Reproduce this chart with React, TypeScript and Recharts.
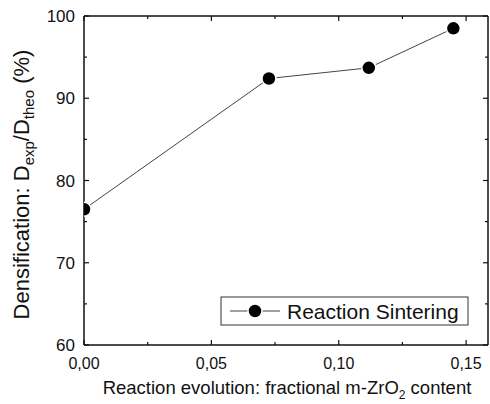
import React from 'react';
import { LineChart, Line, XAxis, YAxis } from 'recharts';

// Relative density vs. fraction of monoclinic zirconia formed
const fractionMZrO2 = [0.0, 0.0726, 0.1118, 0.145];
const densification = [76.5, 92.4, 93.7, 98.5];
const seriesName = 'Reaction Sintering';

const xTicks = [0, 0.025, 0.05, 0.075, 0.1, 0.125, 0.15];
const yTicks = [60, 65, 70, 75, 80, 85, 90, 95, 100];
const xMajor = [0, 0.05, 0.1, 0.15];
const yMajor = [60, 70, 80, 90, 100];

const data = fractionMZrO2.map((x, i) => ({ x, y: densification[i] }));

const FONT = '"Liberation Sans", Arial, sans-serif';
const INK = '#111';
const MAJOR = 5;
const MINOR = 3;

const isMajorX = (v: number) => xMajor.some((m) => Math.abs(m - v) < 1e-9);
const isMajorY = (v: number) => yMajor.some((m) => Math.abs(m - v) < 1e-9);
const fmtX = (v: number) => v.toFixed(2).replace('.', ',');

const BottomTick = (props: any) => {
  const { x, y, payload } = props;
  const major = isMajorX(payload.value);
  return (
    <g>
      <line x1={x} x2={x} y1={y} y2={y - (major ? MAJOR : MINOR)} stroke={INK} strokeWidth={1.2} />
      {major && (
        <text x={x} y={y + 24} textAnchor="middle" fontFamily={FONT} fontSize={16} fill={INK}>
          {fmtX(payload.value)}
        </text>
      )}
    </g>
  );
};

const TopTick = (props: any) => {
  const { x, y, payload } = props;
  const major = isMajorX(payload.value);
  return <line x1={x} x2={x} y1={y} y2={y + (major ? MAJOR : MINOR)} stroke={INK} strokeWidth={1.2} />;
};

const LeftTick = (props: any) => {
  const { x, y, payload } = props;
  const major = isMajorY(payload.value);
  return (
    <g>
      <line x1={x} x2={x + (major ? MAJOR : MINOR)} y1={y} y2={y} stroke={INK} strokeWidth={1.2} />
      {major && (
        <text x={x - 9} y={y + 6} textAnchor="end" fontFamily={FONT} fontSize={17} fill={INK}>
          {payload.value}
        </text>
      )}
    </g>
  );
};

const RightTick = (props: any) => {
  const { x, y, payload } = props;
  const major = isMajorY(payload.value);
  return <line x1={x} x2={x - (major ? MAJOR : MINOR)} y1={y} y2={y} stroke={INK} strokeWidth={1.2} />;
};

const YTitle = (props: any) => {
  const { viewBox } = props;
  const cy = viewBox.y + viewBox.height / 2 + 4;
  const bx = 29;
  return (
    <text
      x={bx}
      y={cy}
      transform={`rotate(-90 ${bx} ${cy})`}
      textAnchor="middle"
      fontFamily={FONT}
      fontSize={22}
      fill={INK}
    >
      <tspan>Densification: D</tspan>
      <tspan fontSize={15} dy={5}>exp</tspan>
      <tspan dy={-5}>/D</tspan>
      <tspan fontSize={15} dy={5}>theo</tspan>
      <tspan dy={-5}> (%)</tspan>
    </text>
  );
};

const XTitle = (props: any) => {
  const { viewBox } = props;
  const cx = viewBox.x + viewBox.width / 2 + 1;
  return (
    <text x={cx} y={394} textAnchor="middle" fontFamily={FONT} fontSize={18.5} fill={INK}>
      <tspan>Reaction evolution: fractional m-ZrO</tspan>
      <tspan fontSize={12} dy={5}>2</tspan>
      <tspan dy={-5}> content</tspan>
    </text>
  );
};

const LegendBox = () => (
  <g>
    <rect x={221} y={297} width={247} height={28} fill="#fff" stroke="#333" strokeWidth={1} />
    <line x1={230} x2={280} y1={311} y2={311} stroke="#444" strokeWidth={1} />
    <circle cx={255} cy={311} r={7} fill="#000" stroke="#fff" strokeWidth={1.5} />
    <text x={287} y={318.5} fontFamily={FONT} fontSize={21} fill={INK}>
      {seriesName}
    </text>
  </g>
);

export default function App() {
  return (
    <div style={{ position: 'absolute', left: 0, top: 0, background: '#fff' }}>
      <LineChart
        width={490}
        height={404}
        data={data}
        margin={{ top: 15, right: 1, bottom: 0, left: 0 }}
      >
        <XAxis
          dataKey="x"
          type="number"
          domain={[0, 0.1586]}
          ticks={xTicks}
          interval={0}
          height={59}
          tickSize={0}
          tickMargin={0}
          tick={<BottomTick />}
          axisLine={{ stroke: INK, strokeWidth: 1.5 }}
          allowDataOverflow
          label={<XTitle />}
        />
        <XAxis
          xAxisId="top"
          orientation="top"
          dataKey="x"
          type="number"
          domain={[0, 0.1586]}
          ticks={xTicks}
          interval={0}
          height={1}
          tickSize={0}
          tickMargin={0}
          tick={<TopTick />}
          axisLine={{ stroke: INK, strokeWidth: 1.5 }}
          allowDataOverflow
        />
        <YAxis
          type="number"
          domain={[60, 100]}
          ticks={yTicks}
          interval={0}
          width={84}
          tickSize={0}
          tickMargin={0}
          tick={<LeftTick />}
          axisLine={{ stroke: INK, strokeWidth: 1.5 }}
          allowDataOverflow
          label={<YTitle />}
        />
        <YAxis
          yAxisId="right"
          orientation="right"
          type="number"
          domain={[60, 100]}
          ticks={yTicks}
          interval={0}
          width={1}
          tickSize={0}
          tickMargin={0}
          tick={<RightTick />}
          axisLine={{ stroke: INK, strokeWidth: 1.5 }}
          allowDataOverflow
        />
        {/* frame axes need a bound series to render; this one draws nothing */}
        <Line
          xAxisId="top"
          yAxisId="right"
          dataKey="y"
          stroke="none"
          dot={false}
          activeDot={false}
          legendType="none"
          isAnimationActive={false}
        />
        <Line
          dataKey="y"
          name={seriesName}
          stroke="#444"
          strokeWidth={1}
          isAnimationActive={false}
          dot={{ r: 7, fill: '#000', stroke: '#fff', strokeWidth: 1.5 }}
          activeDot={false}
        />
        <LegendBox />
      </LineChart>
    </div>
  );
}
